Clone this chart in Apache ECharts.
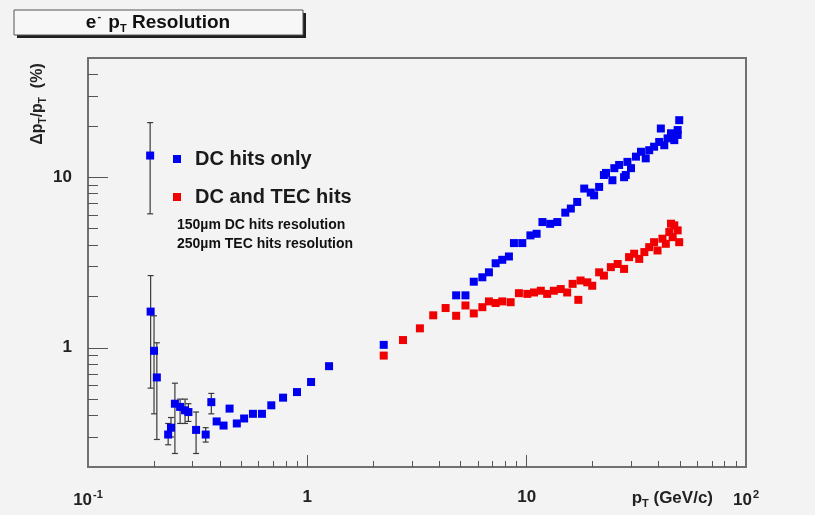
<!DOCTYPE html>
<html>
<head>
<meta charset="utf-8">
<title>e- pT Resolution</title>
<script src="https://cdn.jsdelivr.net/npm/echarts@6/dist/echarts.min.js"></script>
<style>
    html, body { margin: 0; padding: 0; background: #f3f3f3; }
    #chart { width: 815px; height: 515px; }
</style>
</head>
<body>
<div id="chart"></div>
<script>
    'use strict';
    // DC hits only (blue)
    var dcPt = [0.192, 0.193, 0.200, 0.206, 0.232, 0.239, 0.249, 0.263, 0.277, 0.287, 0.311, 0.344, 0.365,
        0.386, 0.415, 0.442, 0.477, 0.515, 0.565, 0.621, 0.685, 0.775, 0.897, 1.04, 1.256,
        2.23, 4.77, 5.26, 5.74, 6.28, 6.73, 7.22, 7.74, 8.3, 8.75, 9.55, 10.4, 11.1, 11.8, 12.8, 13.8,
        15.0, 15.9, 17.0, 18.3, 19.6, 20.3, 21.4, 22.5, 23.0, 24.6, 25.1, 26.4, 27.8, 28.3, 28.8, 29.9,
        31.5, 33.2, 34.9, 36.2, 38.1, 40.2, 40.9, 42.4, 43.9, 45.5, 47.1, 48.8, 48.8, 49.6];
    var dcRes = [13.4, 1.63, 0.96, 0.67, 0.31, 0.34, 0.47, 0.45, 0.43, 0.42, 0.33, 0.31, 0.48,
        0.37, 0.35, 0.44, 0.36, 0.385, 0.41, 0.41, 0.46, 0.51, 0.55, 0.63, 0.78,
        1.04, 2.03, 2.03, 2.44, 2.59, 2.77, 3.13, 3.28, 3.43, 4.11, 4.11, 4.56, 4.66, 5.46, 5.33, 5.46,
        6.2, 6.55, 7.16, 8.58, 8.13, 7.83, 8.77, 10.3, 10.6, 9.6, 11.3, 11.8, 10.0, 10.3, 12.3, 11.3,
        13.2, 14.1, 12.9, 14.4, 15.1, 16.1, 19.3, 15.4, 16.9, 18.1, 16.5, 17.7, 18.9, 21.6];
    // error bar ends for the low-pT points (null = too small to see)
    var dcErrLo = [6.1, 0.58, 0.41, 0.29, 0.27, 0.30, 0.24, 0.36, 0.36, 0.37, 0.24, 0.28, 0.41];
    var dcErrHi = [20.9, 2.65, 1.54, 1.07, 0.36, 0.39, 0.62, 0.50, 0.50, 0.47, 0.42, 0.34, 0.54];

    // DC and TEC hits (red)
    var tecPt = [2.23, 2.73, 3.26, 3.75, 4.27, 4.77, 5.26, 5.74, 6.28, 6.73, 7.22, 7.74, 8.45, 9.22,
        10.07, 10.8, 11.6, 12.4, 13.3, 14.3, 15.3, 16.2, 17.2, 17.6, 18.9, 19.9, 21.4, 22.5, 24.2,
        26.0, 27.8, 29.3, 30.9, 32.6, 34.4, 36.2, 38.1, 39.5, 41.6, 43.1, 44.7, 45.5, 46.3, 47.1, 48.8, 49.6];
    var tecRes = [0.90, 1.11, 1.30, 1.55, 1.71, 1.54, 1.77, 1.59, 1.73, 1.87, 1.83, 1.87, 1.85, 2.09,
        2.07, 2.11, 2.16, 2.07, 2.16, 2.21, 2.11, 2.37, 1.91, 2.48, 2.42, 2.31, 2.77, 2.65, 2.97,
        3.10, 2.90, 3.40, 3.56, 3.32, 3.64, 3.89, 4.16, 3.72, 4.36, 4.07, 4.77, 5.34, 4.45, 5.22, 4.88, 4.16];

    var seriesNames = ['DC hits only', 'DC and TEC hits'];

    // axis ticks / labels
    var xMinorTicks = [0.2, 0.3, 0.4, 0.5, 0.6, 0.7, 0.8, 0.9, 2, 3, 4, 5, 6, 7, 8, 9, 20, 30, 40, 50, 60, 70, 80, 90];
    var xMajorTicks = [1, 10];
    var xLabels = [0.1, 1, 10, 100];
    var yMinorTicks = [0.3, 0.4, 0.5, 0.6, 0.7, 0.8, 0.9, 2, 3, 4, 5, 6, 7, 8, 9, 20, 30, 40];
    var yMajorTicks = [1, 10];
    var yLabels = [1, 10];

    var X_MIN = 0.1, X_MAX = 100, Y_MIN = 0.2, Y_MAX = 50;
    var FONT = '"Liberation Sans", Arial, Helvetica, sans-serif';

    function zip(a, b) {
        var out = [];
        for (var i = 0; i < a.length; i++) {
            out.push([a[i], b[i]]);
        }
        return out;
    }

    var errData = [];
    for (var i = 0; i < dcErrLo.length; i++) {
        if (dcErrLo[i] != null) {
            errData.push([dcPt[i], dcErrLo[i], dcErrHi[i]]);
        }
    }

    function xLabelFmt(v) {
        if (v === 0.1) return '10{e|-1}';
        if (v === 100) return '10{e|2}';
        return String(v);
    }

    function logAxis(min, max, pos, tickVals, tickLen, labelVals, fmt) {
        return {
            type: 'log',
            logBase: 10,
            min: min,
            max: max,
            position: pos,
            splitLine: { show: false },
            axisLine: { show: false },
            axisTick: {
                show: true,
                inside: true,
                length: tickLen,
                customValues: tickVals,
                lineStyle: { color: '#555', width: 1 }
            },
            axisLabel: labelVals ? {
                show: true,
                customValues: labelVals,
                formatter: fmt,
                margin: pos === 'bottom' ? 22 : 16,
                color: '#222',
                fontFamily: FONT,
                fontWeight: 'bold',
                fontSize: 17,
                rich: {
                    e: { fontSize: 11, fontWeight: 'bold', fontFamily: FONT, color: '#222', padding: [0, 0, 12, 1] }
                }
            } : { show: false }
        };
    }

    var chart = echarts.init(document.getElementById('chart'), null, { renderer: 'canvas' });

    var option = {
        backgroundColor: '#f3f3f3',
        animation: false,
        grid: {
            left: 88, right: 69, top: 58, bottom: 48,
            show: true,
            backgroundColor: 'transparent',
            borderColor: '#707070',
            borderWidth: 2
        },
        xAxis: [
            logAxis(X_MIN, X_MAX, 'bottom', xMinorTicks, 6, null),
            logAxis(X_MIN, X_MAX, 'bottom', xMajorTicks, 12, xLabels, xLabelFmt)
        ],
        yAxis: [
            logAxis(Y_MIN, Y_MAX, 'left', yMinorTicks, 10, null),
            logAxis(Y_MIN, Y_MAX, 'left', yMajorTicks, 20, yLabels, function (v) { return String(v); })
        ],
        legend: {
            data: seriesNames,
            orient: 'vertical',
            left: 168,
            top: 144,
            icon: 'rect',
            itemWidth: 8,
            itemHeight: 8,
            itemGap: 18,
            selectedMode: false,
            textStyle: {
                fontFamily: FONT,
                fontWeight: 'bold',
                fontSize: 20,
                color: '#1a1a1a',
                padding: [0, 0, 0, 9]
            }
        },
        graphic: [
            // title box with solid shadow
            { type: 'rect', shape: { x: 17, y: 13, width: 289, height: 25 }, style: { fill: '#1e1e1e' }, silent: true },
            { type: 'rect', shape: { x: 14, y: 10, width: 289, height: 25 }, style: { fill: '#f7f7f7', stroke: '#555', lineWidth: 1 }, silent: true },
            {
                type: 'text', x: 158, y: 23, silent: true,
                style: {
                    text: '{b|e}{s|-}{b| p}{t|T}{b| Resolution}',
                    align: 'center', verticalAlign: 'middle',
                    rich: {
                        b: { fontFamily: FONT, fontWeight: 'bold', fontSize: 19, fill: '#111' },
                        s: { fontFamily: FONT, fontWeight: 'bold', fontSize: 11, fill: '#111', padding: [0, 2, 12, 1] },
                        t: { fontFamily: FONT, fontWeight: 'bold', fontSize: 11, fill: '#111', padding: [12, 0, 0, 0] }
                    }
                }
            },
            // y axis title
            {
                type: 'text', x: 38, y: 104, rotation: Math.PI / 2, silent: true,
                style: {
                    text: '{b|\u0394p}{t|T}{b|/p}{t|T}{b|  (%)}',
                    align: 'center', verticalAlign: 'middle',
                    rich: {
                        b: { fontFamily: FONT, fontWeight: 'bold', fontSize: 16, fill: '#222' },
                        t: { fontFamily: FONT, fontWeight: 'bold', fontSize: 10, fill: '#222', padding: [10, 0, 0, 0] }
                    }
                }
            },
            // x axis title
            {
                type: 'text', x: 713, y: 498, silent: true,
                style: {
                    text: '{b|p}{t|T}{b| (GeV/c)}',
                    align: 'right', verticalAlign: 'middle',
                    rich: {
                        b: { fontFamily: FONT, fontWeight: 'bold', fontSize: 17, fill: '#222' },
                        t: { fontFamily: FONT, fontWeight: 'bold', fontSize: 11, fill: '#222', padding: [11, 0, 0, 0] }
                    }
                }
            },
            {
                type: 'text', x: 177, y: 225, silent: true,
                style: { text: '150\u00b5m DC hits resolution', fontFamily: FONT, fontWeight: 'bold', fontSize: 14, fill: '#111', verticalAlign: 'middle' }
            },
            {
                type: 'text', x: 177, y: 244, silent: true,
                style: { text: '250\u00b5m TEC hits resolution', fontFamily: FONT, fontWeight: 'bold', fontSize: 14, fill: '#111', verticalAlign: 'middle' }
            }
        ],
        series: [
            {
                type: 'custom',
                name: 'errors',
                xAxisIndex: 0,
                yAxisIndex: 0,
                data: errData,
                encode: { x: 0, y: [1, 2] },
                z: 1,
                silent: true,
                renderItem: function (params, api) {
                    var lo = api.coord([api.value(0), api.value(1)]);
                    var hi = api.coord([api.value(0), api.value(2)]);
                    var st = { stroke: '#3a3a3a', lineWidth: 1.2 };
                    return {
                        type: 'group',
                        children: [
                            { type: 'line', shape: { x1: lo[0], y1: lo[1], x2: hi[0], y2: hi[1] }, style: st },
                            { type: 'line', shape: { x1: lo[0] - 3, y1: lo[1], x2: lo[0] + 3, y2: lo[1] }, style: st },
                            { type: 'line', shape: { x1: hi[0] - 3, y1: hi[1], x2: hi[0] + 3, y2: hi[1] }, style: st }
                        ]
                    };
                }
            },
            {
                type: 'scatter',
                name: seriesNames[0],
                xAxisIndex: 0,
                yAxisIndex: 0,
                data: zip(dcPt, dcRes),
                symbol: 'rect',
                symbolSize: 8,
                z: 2,
                itemStyle: { color: '#0000f0', opacity: 1 }
            },
            {
                type: 'scatter',
                name: seriesNames[1],
                xAxisIndex: 0,
                yAxisIndex: 0,
                data: zip(tecPt, tecRes),
                symbol: 'rect',
                symbolSize: 8,
                z: 3,
                itemStyle: { color: '#f00000', opacity: 1 }
            }
        ]
    };

    chart.setOption(option);
</script>
</body>
</html>
